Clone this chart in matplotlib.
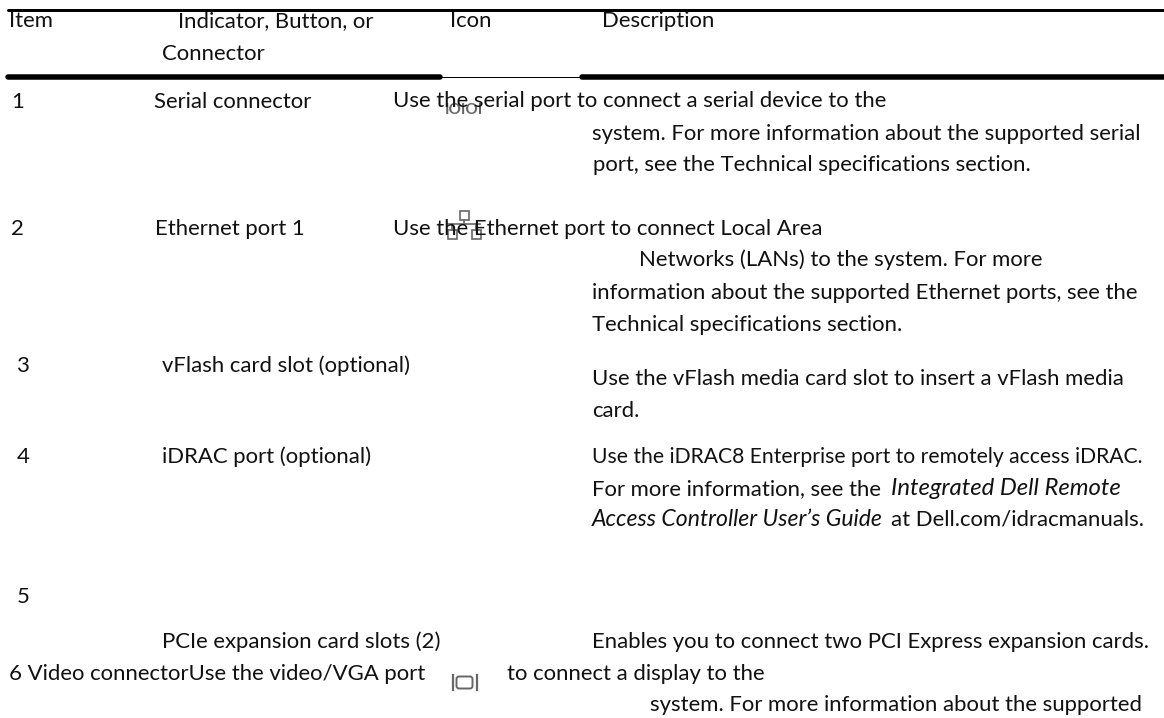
import matplotlib
matplotlib.use("Agg")
import matplotlib.pyplot as plt
from matplotlib.patches import Rectangle, FancyBboxPatch

W, H = 1164, 718
FONT = "Lato"
SIZE = 15.9
INK = "#111111"
ICON = "#666666"

# ---- content ----
header_labels = ["Item", "Indicator, Button, or", "Connector", "Icon", "Description"]
item_labels = ["1", "2", "3", "4", "5"]
indicator_labels = ["Serial connector", "Ethernet port 1", "vFlash card slot (optional)",
                    "iDRAC port (optional)", "PCIe expansion card slots (2)"]
description_lines = [
    "Use the serial port to connect a serial device to the",
    "system. For more information about the supported serial",
    "port, see the Technical specifications section.",
    "Use the Ethernet port to connect Local Area",
    "Networks (LANs) to the system. For more",
    "information about the supported Ethernet ports, see the",
    "Technical specifications section.",
    "Use the vFlash media card slot to insert a vFlash media",
    "card.",
    "Use the iDRAC8 Enterprise port to remotely access iDRAC.",
    "For more information, see the",
    "at Dell.com/idracmanuals.",
    "Enables you to connect two PCI Express expansion cards.",
    "6 Video connectorUse the video/VGA port",
    "to connect a display to the",
    "system. For more information about the supported",
]
italic_lines = ["Integrated Dell Remote", "Access Controller User\u2019s Guide"]
serial_icon = "IOIOI"

# ---- layout (pixels from the top-left) ----
header_xy = [(9, 27), (178, 27), (162, 60), (450, 27), (602, 27)]
item_xy = [(11, 108), (11, 235), (17, 372), (17, 463), (17, 603)]
indicator_xy = [(154, 108), (155, 235), (162, 372), (162, 463), (162, 648)]
description_xy = [(393, 107), (592, 140), (593, 171), (393, 235), (639, 266), (592, 299),
                  (592, 331), (592, 385), (592, 417), (592, 463), (592, 495), (891, 526),
                  (592, 648), (9, 680), (507, 680), (650, 711)]
description_size = [SIZE, SIZE, SIZE, SIZE, SIZE, SIZE, SIZE, SIZE, SIZE, 15.25, SIZE, SIZE,
                    SIZE, SIZE, SIZE, SIZE]
italic_xy = [(891, 495), (592, 526)]
italic_size = [17.2, 16.6]
rules = [(8, 1164, 9.5, 3.0), (8, 440, 77, 5.5), (440, 582, 77, 1.0), (582, 1164, 77, 5.5)]

fig = plt.figure(figsize=(W / 100, H / 100), dpi=100)
ax = fig.add_axes([0, 0, 1, 1])
ax.set_xlim(0, W)
ax.set_ylim(H, 0)
ax.axis("off")

for x0, x1, y, lw in rules:
    ax.plot([x0, x1], [y, y], color="black", lw=lw * 0.72, solid_capstyle="round")


def put(xy, s, size=SIZE, style="normal"):
    ax.text(xy[0], xy[1], s, family=FONT, fontsize=size, style=style,
            va="baseline", color=INK, zorder=5)


for xy, s in zip(header_xy, header_labels):
    put(xy, s)
for xy, s in zip(item_xy, item_labels):
    put(xy, s)
for xy, s in zip(indicator_xy, indicator_labels):
    put(xy, s)
for xy, s, z in zip(description_xy, description_lines, description_size):
    put(xy, s, z)
for xy, s, z in zip(italic_xy, italic_lines, italic_size):
    put(xy, s, z, "italic")

# serial icon, under the text as in the reference
ax.text(464, 114, serial_icon, family=FONT, fontsize=11, weight="bold", color="#666666",
        ha="center", va="baseline", zorder=2)

# network icon
for cx, cy in [(464, 215), (452, 234), (476, 234)]:
    ax.add_patch(Rectangle((cx - 4.5, cy - 4.5), 9, 9, fill=False, ec=ICON, lw=1.2, zorder=2))
ax.plot([448, 480], [224, 224], color=ICON, lw=1.2, zorder=2)
ax.plot([464, 464], [219.5, 224], color=ICON, lw=1.2, zorder=2)
ax.plot([452, 452], [224, 229.5], color=ICON, lw=1.2, zorder=2)
ax.plot([476, 476], [224, 229.5], color=ICON, lw=1.2, zorder=2)

# VGA icon
ax.plot([452.5, 452.5], [675, 690], color=ICON, lw=1.6, zorder=2)
ax.plot([477, 477], [675, 690], color=ICON, lw=1.6, zorder=2)
ax.add_patch(FancyBboxPatch((456.5, 676.5), 16, 12, boxstyle="round,pad=0,rounding_size=2.5",
                            fill=False, ec=ICON, lw=1.4, zorder=2))

fig.savefig("out.png", dpi=100)
